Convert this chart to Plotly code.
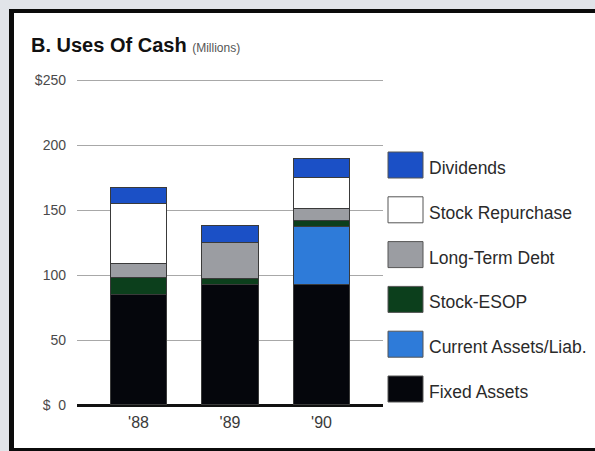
import plotly.graph_objects as go

years = ["'88", "'89", "'90"]
series_names = ["Fixed Assets", "Current Assets/Liab.", "Stock-ESOP",
                "Long-Term Debt", "Stock Repurchase", "Dividends"]
fixed_assets = [85, 93, 93]
current_assets = [0, 0, 44]
stock_esop = [13, 4.5, 5]
long_term_debt = [11, 27.5, 9]
stock_repurchase = [46, 0, 24]
dividends = [12, 13, 15]
series_values = [fixed_assets, current_assets, stock_esop,
                 long_term_debt, stock_repurchase, dividends]
colors = ["#05060c", "#2e7bd9", "#0c3f1c", "#9b9da2", "#ffffff", "#1b50c6"]
tick_vals = [0, 50, 100, 150, 200, 250]
tick_text = ["$  0", "50", "100", "150", "200", "$250"]

W, H = 595, 451
FONT = "Liberation Sans, Arial, sans-serif"


def px(x):
    return x / W


def py(y):
    return 1 - y / H


fig = go.Figure()
for name, vals, col in zip(series_names, series_values, colors):
    fig.add_trace(go.Bar(
        x=years, y=vals, name=name, width=0.62,
        marker=dict(color=col, line=dict(color="#3a3a3a", width=1)),
        showlegend=False,
    ))

shapes = []
# page frame (kept inside the paper)
shapes.append(dict(type="rect", xref="paper", yref="paper",
                   x0=px(9), x1=1, y0=0, y1=py(9),
                   fillcolor="white", line=dict(width=0), layer="below"))
shapes.append(dict(type="rect", xref="paper", yref="paper",
                   x0=px(9), x1=px(14), y0=0, y1=py(9),
                   fillcolor="#0b0b0b", line=dict(width=0), layer="below"))
shapes.append(dict(type="rect", xref="paper", yref="paper",
                   x0=px(9), x1=1, y0=py(13), y1=py(9),
                   fillcolor="#0b0b0b", line=dict(width=0), layer="below"))
shapes.append(dict(type="rect", xref="paper", yref="paper",
                   x0=px(9), x1=1, y0=0, y1=py(448),
                   fillcolor="#0b0b0b", line=dict(width=0), layer="below"))

annotations = []
annotations.append(dict(
    xref="paper", yref="paper", x=px(29), y=py(45), xanchor="left", yanchor="middle",
    text="<b>B. Uses Of Cash</b> <span style='font-size:12px;color:#555'>(Millions)</span>",
    showarrow=False, font=dict(family=FONT, size=20, color="#111")))

# legend (top to bottom: reverse stacking order)
leg_names = series_names[::-1]
leg_colors = colors[::-1]
for i, (n, c) in enumerate(zip(leg_names, leg_colors)):
    yc = 165 + i * 44.8
    shapes.append(dict(type="rect", xref="paper", yref="paper",
                       x0=px(388), x1=px(423), y0=py(yc + 13), y1=py(yc - 13),
                       fillcolor=c, line=dict(color="#555", width=1)))
    annotations.append(dict(
        xref="paper", yref="paper", x=px(427), y=py(yc + 3), xanchor="left",
        yanchor="middle", text=n, showarrow=False,
        font=dict(family=FONT, size=17.5, color="#2a2a2a")))

x0_pix, x1_pix = 77, 383
c0, step = 138.5, 91.5
ytop = 251
fig.update_layout(
    width=W, height=H, autosize=False,
    margin=dict(l=0, r=0, t=0, b=0),
    paper_bgcolor="#e1e4e9",
    plot_bgcolor="rgba(0,0,0,0)",
    barmode="stack",
    shapes=shapes,
    annotations=annotations,
    xaxis=dict(domain=[px(x0_pix), px(x1_pix)],
               range=[(x0_pix - c0) / step, (x1_pix - c0) / step],
               showgrid=False, zeroline=False, showline=False,
               ticks="", ticklabelstandoff=6, automargin=False,
               tickfont=dict(family=FONT, size=16, color="#3a3a3a")),
    yaxis=dict(domain=[py(405), py(405 - 1.3 * ytop)], range=[0, ytop],
               tickvals=tick_vals, ticktext=tick_text,
               showgrid=True, gridcolor="#a8a8a8", gridwidth=1,
               zeroline=True, zerolinecolor="#111", zerolinewidth=2.5,
               showline=False, ticks="", ticklabelstandoff=10, automargin=False,
               tickfont=dict(family=FONT, size=14, color="#4a4a4a")),
    font=dict(family=FONT),
)

fig.write_html("out.html")
